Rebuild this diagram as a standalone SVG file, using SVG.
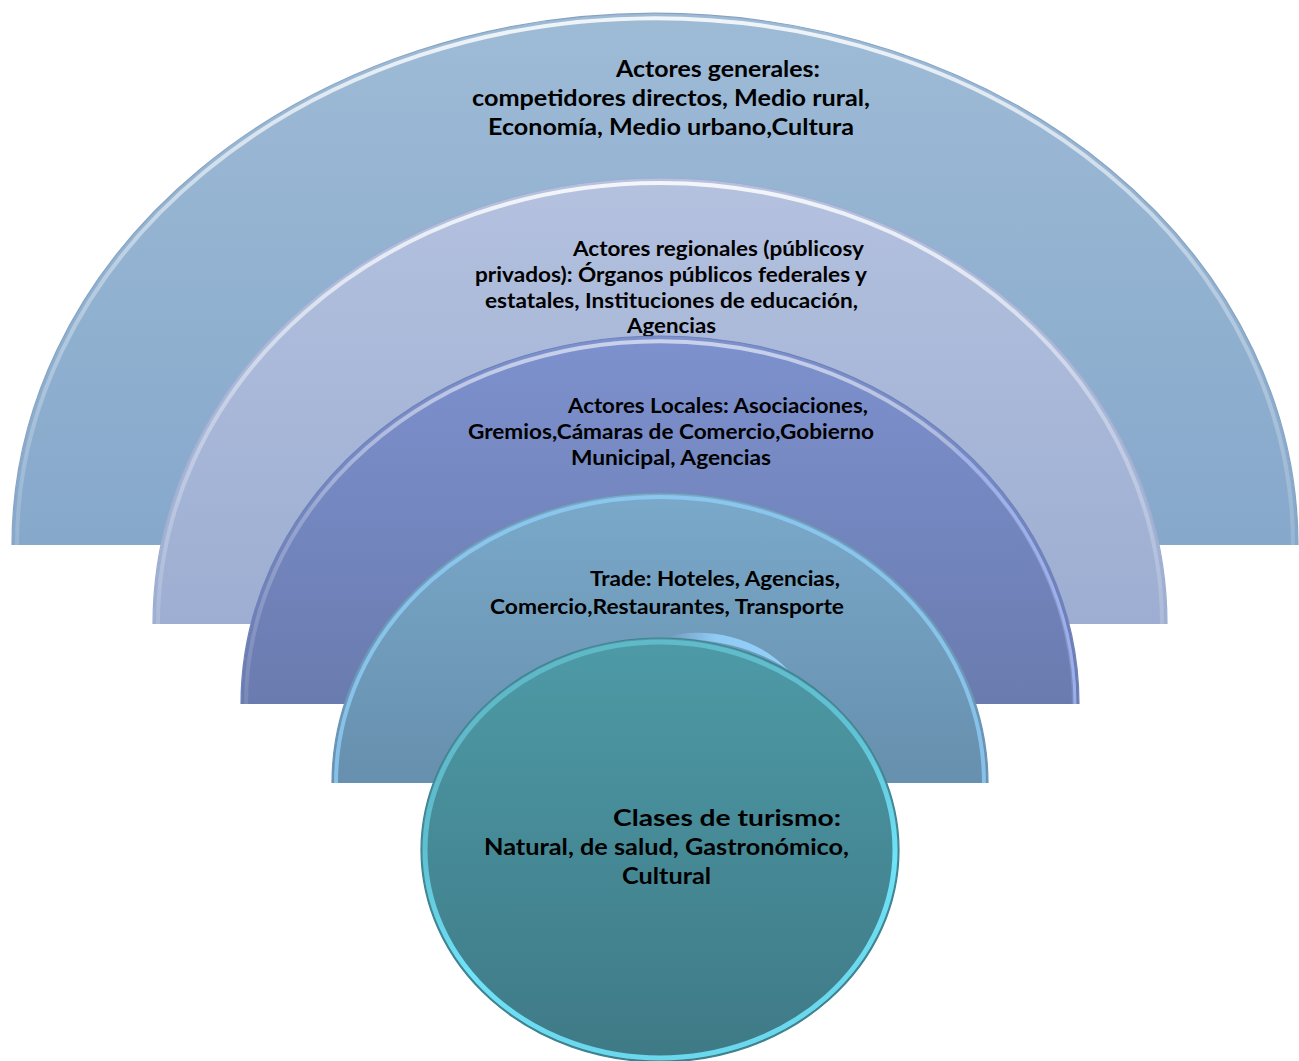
<svg xmlns="http://www.w3.org/2000/svg" width="1299" height="1061" viewBox="0 0 1299 1061">
<defs>
<linearGradient id="g1" x1="0" y1="0" x2="0" y2="1"><stop offset="0" stop-color="#9EBBD6"/><stop offset="1" stop-color="#86A8CB"/></linearGradient>
<linearGradient id="g2" x1="0" y1="0" x2="0" y2="1"><stop offset="0" stop-color="#B4C1DF"/><stop offset="1" stop-color="#9DAED2"/></linearGradient>
<linearGradient id="g3" x1="0" y1="0" x2="0" y2="1"><stop offset="0" stop-color="#7D91CE"/><stop offset="1" stop-color="#6A7BAF"/></linearGradient>
<linearGradient id="g4" x1="0" y1="0" x2="0" y2="1"><stop offset="0" stop-color="#7AA9C9"/><stop offset="1" stop-color="#678FAE"/></linearGradient>
<linearGradient id="g5" x1="0" y1="0" x2="0" y2="1"><stop offset="0" stop-color="#4D9AA6"/><stop offset="1" stop-color="#3F7986"/></linearGradient>
<linearGradient id="hl" x1="0" y1="0" x2="0" y2="1"><stop offset="0" stop-color="#FFFFFF" stop-opacity="0.85"/><stop offset="0.5" stop-color="#FFFFFF" stop-opacity="0.35"/><stop offset="1" stop-color="#FFFFFF" stop-opacity="0.15"/></linearGradient>
<linearGradient id="rim5" x1="0" y1="0" x2="0.3" y2="1"><stop offset="0" stop-color="#7FE6F8" stop-opacity="0.35"/><stop offset="0.45" stop-color="#6FE3F8" stop-opacity="0.6"/><stop offset="0.75" stop-color="#6FE3F8" stop-opacity="1"/><stop offset="1" stop-color="#6FE3F8" stop-opacity="0.9"/></linearGradient>
<linearGradient id="refl" x1="0" y1="0" x2="1" y2="0"><stop offset="0" stop-color="#93D0FA" stop-opacity="0"/><stop offset="0.4" stop-color="#93D0FA" stop-opacity="0.9"/><stop offset="1" stop-color="#93D0FA" stop-opacity="1"/></linearGradient>
<style>
.t{font-family:Lato,"Open Sans","Liberation Sans",sans-serif;font-weight:bold;fill:#000;}
.edge{fill:none;stroke-width:1.2;}
.hl{fill:none;stroke:url(#hl);stroke-width:4;}
</style>
</defs>

<g id="actores-generales">
<path d="M12,545 A643,532 0 0 1 1298,545 Z" fill="url(#g1)"/>
<path class="hl" d="M17,545 A638,527 0 0 1 1293,545"/>
<path class="edge" stroke="#86A4C2" d="M12,545 A643,532 0 0 1 1298,545"/>
<text class="t" font-size="22"><tspan x="616" y="77" textLength="204" lengthAdjust="spacingAndGlyphs">Actores generales:</tspan><tspan x="472" y="106" textLength="398" lengthAdjust="spacingAndGlyphs">competidores directos, Medio rural,</tspan><tspan x="488" y="135" textLength="366" lengthAdjust="spacingAndGlyphs">Economía, Medio urbano,Cultura</tspan></text>
</g>

<g id="actores-regionales">
<path d="M153,624 A507,446 0 0 1 1167,624 Z" fill="url(#g2)"/>
<path class="hl" d="M158,624 A502,441 0 0 1 1162,624"/>
<path class="edge" stroke="#9DADCF" d="M153,624 A507,446 0 0 1 1167,624"/>
<text class="t" font-size="20"><tspan x="573" y="256" textLength="291" lengthAdjust="spacingAndGlyphs">Actores regionales (públicosy</tspan><tspan x="475" y="282" textLength="392" lengthAdjust="spacingAndGlyphs">privados): Órganos públicos federales y</tspan><tspan x="485" y="308" textLength="373" lengthAdjust="spacingAndGlyphs">estatales, Instituciones de educación,</tspan><tspan x="627" y="333" textLength="89" lengthAdjust="spacingAndGlyphs">Agencias</tspan></text>
</g>

<g id="actores-locales">
<path d="M241,704 A419,368 0 0 1 1079,704 Z" fill="url(#g3)"/>
<path class="hl" d="M246,704 A414,363 0 0 1 1074,704" opacity="0.7"/>
<path fill="none" stroke="#9DB3F2" stroke-width="3" d="M956,450 A414,363 0 0 1 1075,704" opacity="0.9"/>
<path class="edge" stroke="#6F82BA" d="M241,704 A419,368 0 0 1 1079,704"/>
<text class="t" font-size="20"><tspan x="568" y="413" textLength="300" lengthAdjust="spacingAndGlyphs">Actores Locales: Asociaciones,</tspan><tspan x="468" y="439" textLength="406" lengthAdjust="spacingAndGlyphs">Gremios,Cámaras de Comercio,Gobierno</tspan><tspan x="571" y="465" textLength="200" lengthAdjust="spacingAndGlyphs">Municipal, Agencias</tspan></text>
</g>

<g id="trade">
<path d="M332,783 A328,290 0 0 1 988,783 Z" fill="url(#g4)"/>
<path fill="none" stroke="#8FCDF8" stroke-width="4" d="M336,783 A324,286 0 0 1 984,783" opacity="0.8"/>
<path class="edge" stroke="#6C95B5" d="M332,783 A328,290 0 0 1 988,783"/>
<path d="M668,637 C700,627 755,634 788,670 C762,652 730,643 700,640 C686,638 676,637 668,637 Z" fill="url(#refl)"/>
<text class="t" font-size="21"><tspan x="590" y="586" textLength="250" lengthAdjust="spacingAndGlyphs">Trade: Hoteles, Agencias,</tspan><tspan x="490" y="614" textLength="354" lengthAdjust="spacingAndGlyphs">Comercio,Restaurantes, Transporte</tspan></text>
</g>

<g id="clases-de-turismo">
<ellipse cx="660" cy="850" rx="239" ry="212" fill="url(#g5)"/>
<ellipse cx="660" cy="850" rx="235" ry="208" fill="none" stroke="url(#rim5)" stroke-width="5"/>
<ellipse cx="660" cy="850" rx="239" ry="212" fill="none" stroke="#3F8391" stroke-width="1.2"/>
<text class="t" font-size="22"><tspan x="613" y="826" textLength="228" lengthAdjust="spacingAndGlyphs">Clases de turismo:</tspan><tspan x="484" y="855" textLength="365" lengthAdjust="spacingAndGlyphs">Natural, de salud, Gastronómico,</tspan><tspan x="622" y="884" textLength="89" lengthAdjust="spacingAndGlyphs">Cultural</tspan></text>
</g>
</svg>
